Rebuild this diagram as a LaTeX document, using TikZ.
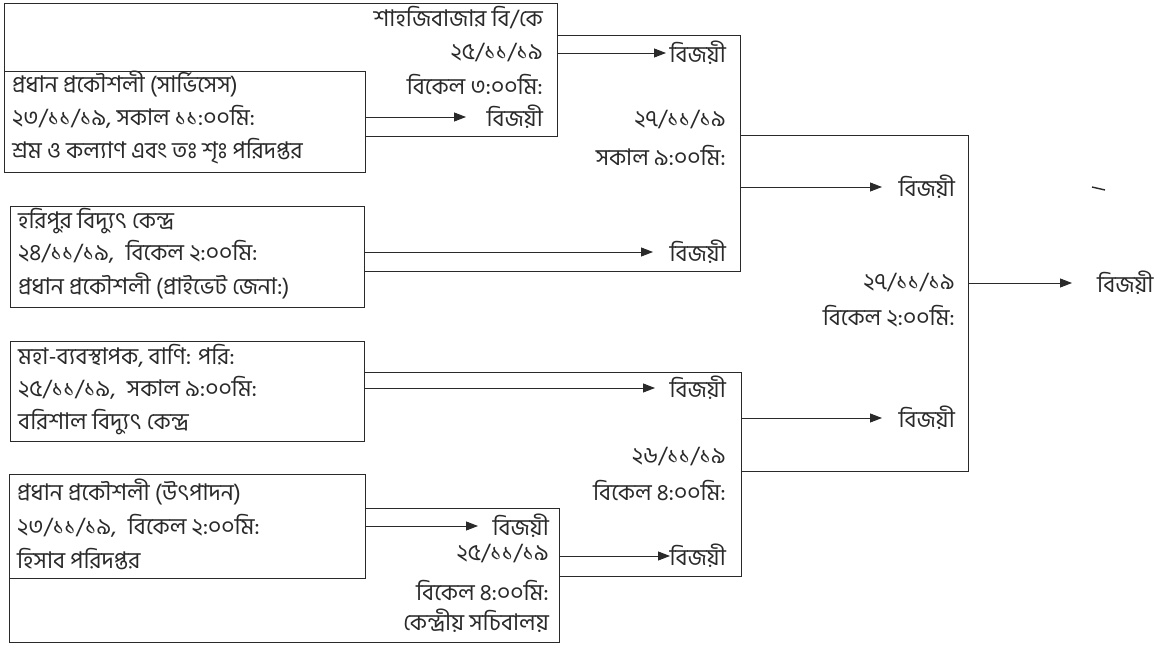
\documentclass[tikz,border=0pt]{standalone}
\usepackage{fontspec}
\newfontfamily\bn[Script=Bengali]{Hind Siliguri}
\usetikzlibrary{arrows.meta}
\definecolor{ink}{HTML}{2A2A2A}
\tikzset{
  frame/.style={draw=ink, line width=0.9pt, fill=white, inner sep=0pt, anchor=north west},
  brk/.style={draw=ink, line width=0.9pt},
  arr/.style={draw=ink, line width=0.9pt, -{Triangle[length=12pt,width=9pt]}},
  txt/.style={inner sep=0pt, text=ink, font=\bn\fontsize{23}{26}\selectfont},
  lt/.style={txt, anchor=west},
  rt/.style={txt, anchor=east},
}
\begin{document}
\begin{tikzpicture}[x=1pt,y=-1pt]
\useasboundingbox (0,0) rectangle (1154,647);
% ---------- boxes ----------
\node[frame, minimum width=553pt, minimum height=133pt] (A) at (4,3) {};
\node[frame, minimum width=361pt, minimum height=101pt] (B) at (4,71) {};
\node[frame, minimum width=354pt, minimum height=101pt] (H) at (10,206) {};
\node[frame, minimum width=354pt, minimum height=100pt] (M) at (10,341) {};
\node[frame, minimum width=550pt, minimum height=134pt] (S) at (9,508) {};
\node[frame, minimum width=356pt, minimum height=104pt] (U) at (9,474) {};
% ---------- bracket corners ----------
\coordinate (c1) at (740,35);  \coordinate (c2) at (740,271);
\coordinate (d1) at (741,372); \coordinate (d2) at (741,576);
\coordinate (e1) at (968,135); \coordinate (e2) at (968,471);
\draw[brk] (A.east |- c1) -- (c1) -- (c2) -- (H.east |- c2);
\draw[brk] (M.east |- d1) -- (d1) -- (d2) -- (S.east |- d2);
\draw[brk] (c1 |- e1) -- (e1) -- (e2) -- (d1 |- e2);
% ---------- texts in A ----------
\node[rt] (a1) at (543,18) {শাহজিবাজার বি/কে};
\node[rt] (a2) at (543,53) {২৫/১১/১৯};
\node[rt] (a3) at (543,84) {বিকেল ৩:০০মি:};
\node[rt] (wB) at (543,117) {বিজয়ী};
% ---------- texts in B ----------
\node[lt] (b1) at (12,84) {প্রধান প্রকৌশলী (সার্ভিসেস)};
\node[lt] (b2) at (12,117) {২৩/১১/১৯, সকাল ১১:০০মি:};
\node[lt] (b3) at (12,151) {শ্রম ও কল্যাণ এবং তঃ শৃঃ পরিদপ্তর};
% ---------- texts in C ----------
\node[rt] (wA) at (726,53) {বিজয়ী};
\node[rt] (cd) at (726,120) {২৭/১১/১৯};
\node[rt] (ct) at (726,155) {সকাল ৯:০০মি:};
\node[rt] (wH) at (726,252) {বিজয়ী};
% ---------- texts in H ----------
\node[lt] (h1) at (18,221) {হরিপুর বিদ্যুৎ কেন্দ্র};
\node[lt] (h2) at (18,252) {২৪/১১/১৯,\enspace বিকেল ২:০০মি:};
\node[lt] (h3) at (18,286) {প্রধান প্রকৌশলী (প্রাইভেট জেনা:)};
% ---------- texts in M ----------
\node[lt] (m1) at (18,356) {মহা-ব্যবস্থাপক, বাণি: পরি:};
\node[lt] (m2) at (18,388) {২৫/১১/১৯,\enspace সকাল ৯:০০মি:};
\node[lt] (m3) at (18,422) {বরিশাল বিদ্যুৎ কেন্দ্র};
% ---------- texts in D ----------
\node[rt] (wM) at (726,388) {বিজয়ী};
\node[rt] (dd) at (726,457) {২৬/১১/১৯};
\node[rt] (dt) at (726,490) {বিকেল ৪:০০মি:};
\node[rt] (wS) at (726,556) {বিজয়ী};
% ---------- texts in U ----------
\node[lt] (u1) at (17,492) {প্রধান প্রকৌশলী (উৎপাদন)};
\node[lt] (u2) at (17,526) {২৩/১১/১৯,\enspace বিকেল ২:০০মি:};
\node[lt] (u3) at (17,559) {হিসাব পরিদপ্তর};
% ---------- texts in S ----------
\node[rt] (wU) at (549,526) {বিজয়ী};
\node[rt] (sd) at (549,554) {২৫/১১/১৯};
\node[rt] (st) at (549,590) {বিকেল ৪:০০মি:};
\node[rt] (s4) at (549,621) {কেন্দ্রীয় সচিবালয়};
% ---------- texts in E ----------
\node[rt] (wC) at (955,187) {বিজয়ী};
\node[rt] (ed) at (955,283) {২৭/১১/১৯};
\node[rt] (et) at (955,316) {বিকেল ২:০০মি:};
\node[rt] (wD) at (955,418) {বিজয়ী};
% ---------- final ----------
\node[lt] (wE) at (1097,283) {বিজয়ী};
% ---------- arrow tips ----------
\coordinate (tB) at (466,117);
\coordinate (tA) at (666,53);
\coordinate (tH) at (653,252);
\coordinate (tM) at (655,388);
\coordinate (tU) at (478,526);
\coordinate (tS) at (670,556);
\coordinate (tC) at (882,187);
\coordinate (tD) at (882,418);
\coordinate (tE) at (1072,283);
% ---------- arrows ----------
\draw[arr] (B.east |- tB) -- (tB);
\draw[arr] (A.east |- tA) -- (tA);
\draw[arr] (H.east |- tH) -- (tH);
\draw[arr] (M.east |- tM) -- (tM);
\draw[arr] (U.east |- tU) -- (tU);
\draw[arr] (S.east |- tS) -- (tS);
\draw[arr] (c1 |- tC) -- (tC);
\draw[arr] (d1 |- tD) -- (tD);
\draw[arr] (e1 |- tE) -- (tE);
% ---------- stray mark ----------
\coordinate (k1) at (1092,187);
\coordinate (k2) at (1105,190);
\draw[draw=ink, line width=1.4pt] (k1) -- (k2);
\end{tikzpicture}
\end{document}
